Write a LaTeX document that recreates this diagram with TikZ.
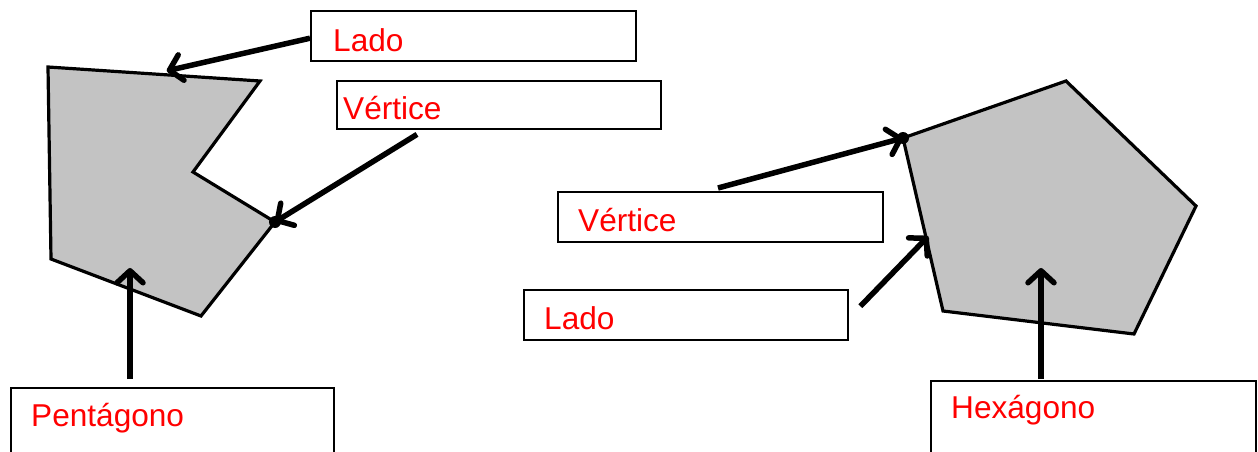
\documentclass[tikz,border=0pt]{standalone}
\usepackage{fontspec}
\setmainfont{Liberation Sans}
\usetikzlibrary{arrows.meta,calc}
\definecolor{shapegray}{HTML}{C3C3C3}
\tikzset{
  lbox/.style={draw=black, line width=2.4pt, anchor=north west, inner sep=0pt},
  ltext/.style={text=red, font=\fontsize{31.6}{36}\selectfont, anchor=west, inner sep=0pt},
  polyfig/.style={draw=black, fill=shapegray, line width=3.2pt, line join=miter},
  pointer/.style={line width=5.5pt, -{Straight Barb[length=12pt,width=26pt,line cap=round,line join=round]}},
  vdot/.style={fill=black, circle, inner sep=0pt, minimum size=12pt},
}
\begin{document}
\begin{tikzpicture}[x=1pt,y=-1pt]
\useasboundingbox (0,0) rectangle (1258,452);
\clip (0,0) rectangle (1258,452);
% left concave pentagon
\coordinate (p1) at (48,67);
\coordinate (p2) at (260,81);
\coordinate (p3) at (193,172);
\coordinate (p4) at (275,222);
\coordinate (p5) at (201,316);
\coordinate (p6) at (51,259);
\draw[polyfig] (p1) -- (p2) -- (p3) -- (p4) -- (p5) -- (p6) -- cycle;
% right pentagon
\coordinate (h1) at (903,138);
\coordinate (h2) at (1066,81);
\coordinate (h3) at (1196,206);
\coordinate (h4) at (1134,334);
\coordinate (h5) at (943,311);
\draw[polyfig] (h1) -- (h2) -- (h3) -- (h4) -- (h5) -- cycle;
% boxes
\node[lbox, minimum width=325, minimum height=50] (ladoA) at (310,10) {};
\node[ltext] (ladoAt) at (333,40) {Lado};
\node[lbox, minimum width=324, minimum height=48] (vertA) at (336,80) {};
\node[ltext] (vertAt) at (343,108) {Vértice};
\node[lbox, minimum width=323, minimum height=90] (pentA) at (10,387) {};
\node[ltext] (pentAt) at (31,418) {Pentágono};
\node[lbox, minimum width=325, minimum height=50] (vertB) at (557,191) {};
\node[ltext] (vertBt) at (578,220) {Vértice};
\node[lbox, minimum width=324, minimum height=50] (ladoB) at (523,289) {};
\node[ltext] (ladoBt) at (544,318) {Lado};
\node[lbox, minimum width=325, minimum height=90] (hexA) at (930,380) {};
\node[ltext] (hexAt) at (951,410) {Hexágono};
% target points
\coordinate (tLadoA) at ($(p1)!0.56!(p2)+(0,-4)$);
\coordinate (tLadoB) at ($(h1)!0.58!(h5)+(2,-2)$);
\coordinate (tPent) at (130,268);
\coordinate (tHex) at (1041,268);
% dots
\node[vdot] (dA) at (p4) {};
\node[vdot] (dB) at (h1) {};
% arrows
\draw[pointer] ($(ladoA.west)+(0,2)$) -- (tLadoA);
\draw[pointer] ($(vertA.south west)+(81,4)$) -- (dA.center);
\draw[pointer] ($(pentA.north west)+(120,-8)$) -- (tPent);
\draw[pointer] ($(vertB.north west)+(161,-3)$) -- (dB.center);
\draw[pointer] ($(ladoB.east)+(11,-9)$) -- (tLadoB);
\draw[pointer] ($(hexA.north west)+(111,-1)$) -- (tHex);
\end{tikzpicture}
\end{document}
